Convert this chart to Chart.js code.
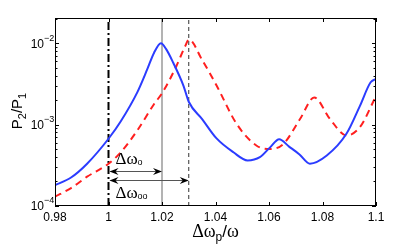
<!DOCTYPE html>
<html><head><meta charset="utf-8">
<script src="https://cdn.jsdelivr.net/npm/chart.js@4"></script>
<style>html,body{margin:0;padding:0;background:#fff}canvas{display:block}</style>
</head><body>
<div style="width:415px;height:250px"><canvas id="c" width="415" height="250"></canvas></div>
<script>
// ---- data ----
const xTicks = [0.98, 1, 1.02, 1.04, 1.06, 1.08, 1.1];
const xTickLabels = ['0.98', '1', '1.02', '1.04', '1.06', '1.08', '1.1'];
const yTicks = [1e-4, 1e-3, 1e-2];
const yTickExps = ['\u22124', '\u22123', '\u22122'];

const blueX = [0.98, 0.986, 0.992, 1.0, 1.0046, 1.0108, 1.0145, 1.017, 1.0196, 1.0215, 1.0242, 1.028, 1.03, 1.035, 1.0404, 1.0467, 1.052, 1.0566, 1.0604, 1.0638, 1.0675, 1.0714, 1.0753, 1.0816, 1.089, 1.094, 1.098, 1.1];
const blueY = [1.80e-4, 2.24e-4, 3.31e-4, 6.70e-4, 1.10e-3, 2.51e-3, 4.79e-3, 7.59e-3, 1.00e-2, 8.51e-3, 5.75e-3, 3.02e-3, 1.91e-3, 1.17e-3, 6.76e-4, 4.57e-4, 3.63e-4, 3.98e-4, 5.25e-4, 6.61e-4, 5.37e-4, 4.30e-4, 3.31e-4, 4.17e-4, 7.76e-4, 1.70e-3, 3.31e-3, 3.63e-3];

const redX = [0.98, 0.986, 0.992, 1.0, 1.0046, 1.0108, 1.017, 1.0201, 1.0254, 1.0286, 1.0301, 1.0349, 1.0404, 1.0479, 1.0554, 1.0604, 1.0653, 1.0716, 1.0769, 1.0828, 1.089, 1.094, 1.1];
const redY = [1.30e-4, 1.66e-4, 2.29e-4, 3.31e-4, 4.57e-4, 8.51e-4, 1.78e-3, 2.45e-3, 5.25e-3, 9.12e-3, 1.11e-2, 6.31e-3, 3.02e-3, 1.02e-3, 5.50e-4, 5.01e-4, 5.75e-4, 1.17e-3, 2.15e-3, 1.17e-3, 7.35e-4, 9.33e-4, 2.24e-3];

const refX = 1.0;      // reference frequency (dash-dot)
const peak1X = 1.02;   // Δω_o marker
const peak2X = 1.03;   // Δω_oo marker

const yMin = 1e-4, yMax = 0.0204;

// ---- build ----
const pts = (xs, ys) => xs.map((v, i) => ({x: v, y: ys[i]}));
const vline = v => [{x: v, y: yMin}, {x: v, y: yMax}];

const SANS = '"Liberation Sans", Arial, Helvetica, sans-serif';
const SERIF = '"Liberation Serif", "Times New Roman", serif';

const annot = {
  arrow1Y: 2.7e-4, arrow2Y: 2.1e-4,
  label1Y: 3.9e-4, label2Y: 1.48e-4, labelX: 1.0026
};

function arrowHead(ctx, x, y, dir) {
  ctx.beginPath();
  ctx.moveTo(x, y);
  ctx.lineTo(x - dir * 9, y - 3.5);
  ctx.lineTo(x - dir * 6, y);
  ctx.lineTo(x - dir * 9, y + 3.5);
  ctx.closePath();
  ctx.fill();
}

const deco = {
  id: 'deco',
  afterDraw(ch) {
    const {ctx, chartArea: a, scales: {x, y}} = ch;
    ctx.save();
    // box
    ctx.strokeStyle = '#000'; ctx.lineWidth = 1;
    ctx.strokeRect(Math.round(a.left) + 0.5, Math.round(a.top) + 0.5, Math.round(a.right - a.left) - 1, Math.round(a.bottom - a.top) - 1);
    // x ticks (inward, top and bottom)
    ctx.beginPath();
    xTicks.forEach(v => {
      const px = Math.round(x.getPixelForValue(v)) + 0.5;
      ctx.moveTo(px, a.bottom); ctx.lineTo(px, a.bottom - 4);
      ctx.moveTo(px, a.top); ctx.lineTo(px, a.top + 4);
    });
    // y ticks major + minor
    yTicks.forEach(d => {
      for (let k = 1; k <= 9; k++) {
        const v = d * k;
        if (v > yMax) break;
        const py = Math.round(y.getPixelForValue(v)) + 0.5;
        const len = k === 1 ? 4 : 2.5;
        ctx.moveTo(a.left, py); ctx.lineTo(a.left + len, py);
        ctx.moveTo(a.right, py); ctx.lineTo(a.right - len, py);
      }
    });
    ctx.stroke();

    // y tick labels 10^n
    ctx.fillStyle = '#000';
    ctx.textBaseline = 'middle';
    yTicks.forEach((v, i) => {
      const py = y.getPixelForValue(v);
      ctx.font = '12px ' + SANS; ctx.textAlign = 'right';
      ctx.fillText('10', 44, py + 1);
      ctx.font = '9px ' + SANS; ctx.textAlign = 'left';
      ctx.fillText(yTickExps[i], 44, py - 5);
    });

    // y title  P2/P1 rotated
    ctx.save();
    ctx.translate(17, 111);
    ctx.rotate(-Math.PI / 2);
    const partsY = [['P', '15px ', 0], ['2', '11px ', 4], ['/P', '15px ', 0], ['1', '11px ', 4]];
    let w = 0;
    partsY.forEach(p => { ctx.font = p[1] + SANS; w += ctx.measureText(p[0]).width; });
    let cx = -w / 2;
    ctx.textAlign = 'left'; ctx.textBaseline = 'alphabetic';
    partsY.forEach(p => { ctx.font = p[1] + SANS; ctx.fillText(p[0], cx, 5 + p[2]); cx += ctx.measureText(p[0]).width; });
    ctx.restore();

    // x title Δω_p/ω
    const partsX = [['\u0394\u03c9', '18px ' + SERIF, 0], ['p', '12px ' + SANS, 4], ['/', '17px ' + SANS, 0], ['\u03c9', '18px ' + SERIF, 0]];
    w = 0;
    partsX.forEach(p => { ctx.font = p[1]; w += ctx.measureText(p[0]).width; });
    cx = (a.left + a.right) / 2 - w / 2;
    ctx.textAlign = 'left'; ctx.textBaseline = 'alphabetic';
    partsX.forEach(p => { ctx.font = p[1]; ctx.fillText(p[0], cx, 237 + p[2]); cx += ctx.measureText(p[0]).width; });

    // arrows
    const xr = x.getPixelForValue(refX), x1 = x.getPixelForValue(peak1X), x2 = x.getPixelForValue(peak2X);
    const ya1 = Math.round(y.getPixelForValue(annot.arrow1Y)) + 0.5;
    const ya2 = Math.round(y.getPixelForValue(annot.arrow2Y)) + 0.5;
    ctx.strokeStyle = '#555'; ctx.lineWidth = 1; ctx.fillStyle = '#000';
    ctx.beginPath();
    ctx.moveTo(xr + 2, ya1); ctx.lineTo(x1 - 2, ya1);
    ctx.moveTo(xr + 2, ya2); ctx.lineTo(x2 - 2, ya2);
    ctx.stroke();
    arrowHead(ctx, xr + 1, ya1, -1); arrowHead(ctx, x1, ya1, 1);
    arrowHead(ctx, xr + 1, ya2, -1); arrowHead(ctx, x2, ya2, 1);

    // labels Δω_o, Δω_oo
    const lx = x.getPixelForValue(annot.labelX);
    const l1 = y.getPixelForValue(annot.label1Y), l2 = y.getPixelForValue(annot.label2Y);
    ctx.fillStyle = '#000';
    ctx.font = '17px ' + SERIF;
    ctx.textBaseline = 'alphabetic';
    const dw = ctx.measureText('\u0394\u03c9').width;
    ctx.fillText('\u0394\u03c9', lx, l1 + 6);
    ctx.fillText('\u0394\u03c9', lx, l2 + 6);
    ctx.font = '9px ' + SANS;
    ctx.fillText('o', lx + dw, l1 + 7);
    ctx.fillText('oo', lx + dw, l2 + 7);
    ctx.restore();
  }
};

new Chart(document.getElementById('c'), {
  type: 'line',
  data: {
    datasets: [
      {data: pts(blueX, blueY), borderColor: '#2b3cff', borderWidth: 2, pointRadius: 0, cubicInterpolationMode: 'monotone', fill: false},
      {data: pts(redX, redY), borderColor: '#ff1f1f', borderWidth: 2, borderDash: [7, 5], pointRadius: 0, cubicInterpolationMode: 'monotone', fill: false},
      {data: vline(refX), borderColor: '#000', borderWidth: 2, borderDash: [8, 3, 2, 3], pointRadius: 0},
      {data: vline(peak1X), borderColor: '#9a9a9a', borderWidth: 1.5, pointRadius: 0},
      {data: vline(peak2X), borderColor: '#333', borderWidth: 1, borderDash: [4, 3], pointRadius: 0}
    ]
  },
  options: {
    responsive: false, animation: false, devicePixelRatio: 1,
    layout: {padding: {top: 18, right: 39, left: 0, bottom: 0}},
    plugins: {legend: {display: false}, tooltip: {enabled: false}},
    scales: {
      x: {
        type: 'linear', min: 0.98, max: 1.1,
        afterBuildTicks: s => { s.ticks = xTicks.map(v => ({value: v})); },
        afterFit: s => { s.height = 44; },
        grid: {display: false, drawTicks: false},
        border: {display: false},
        ticks: {padding: 4, color: '#000', font: {family: SANS, size: 12},
          callback: (v, i) => xTickLabels[i], maxRotation: 0, autoSkip: false}
      },
      y: {
        type: 'logarithmic', min: yMin, max: yMax,
        afterFit: s => { s.width = 55; },
        grid: {display: false, drawTicks: false},
        border: {display: false},
        ticks: {display: false}
      }
    }
  },
  plugins: [deco]
});
</script>
</body></html>
